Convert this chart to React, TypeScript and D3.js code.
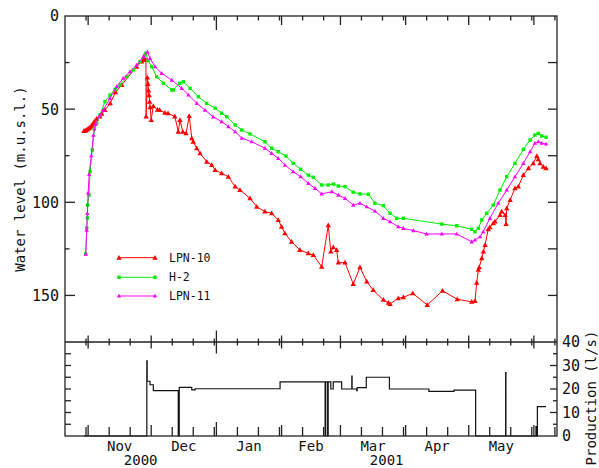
import React from "react";
import * as d3 from "d3";

// ---------- DATA ----------
const xStart = "2000-10-21";
const xEnd = "2001-06-12";

const lpn10: [string, number][] = [
  ["2000-10-30", 61.8], ["2000-10-30T12", 61.6], ["2000-10-31", 61.3], ["2000-10-31T12", 61.0],
  ["2000-11-01", 60.6], ["2000-11-01T12", 60.2], ["2000-11-02", 59.7], ["2000-11-02T12", 59.1],
  ["2000-11-03", 58.4], ["2000-11-03T12", 57.6], ["2000-11-04", 56.6], ["2000-11-05", 55.2],
  ["2000-11-06T12", 54.0], ["2000-11-07T12", 52.5], ["2000-11-09", 50.5], ["2000-11-11T12", 46.9],
  ["2000-11-14", 41.0], ["2000-11-17", 37.0], ["2000-11-24", 27.2], ["2000-11-26T12", 24.5],
  ["2000-11-27", 23.4], ["2000-11-27T12", 23.2], ["2000-11-28", 23.2], ["2000-11-28T12", 23.6],
  ["2000-11-28T14", 54.0], ["2000-11-29T04", 33.0], ["2000-11-29T12", 36.5], ["2000-11-29T18", 40.0],
  ["2000-11-30", 42.5], ["2000-11-30T06", 46.0], ["2000-11-30T12", 49.0], ["2000-12-01", 55.8],
  ["2000-12-02", 48.3], ["2000-12-04", 50.4], ["2000-12-05", 50.5], ["2000-12-07T12", 52.0],
  ["2000-12-09", 52.2], ["2000-12-12T06", 54.0], ["2000-12-13T21", 62.1], ["2000-12-14T16", 55.8],
  ["2000-12-16", 62.1], ["2000-12-17T14", 63.0], ["2000-12-19T02", 53.7], ["2000-12-20T07", 65.6],
  ["2000-12-21", 67.5], ["2000-12-22T16", 71.0], ["2000-12-24T05", 73.7], ["2000-12-27T10", 78.2],
  ["2000-12-29T19", 80.0], ["2000-12-31T10", 82.7], ["2001-01-03T12", 84.4], ["2001-01-06T17", 86.3],
  ["2001-01-09T22", 91.6], ["2001-01-12T05", 93.4], ["2001-01-17", 97.9], ["2001-01-20T05", 102.4],
  ["2001-01-24T02", 105.0], ["2001-01-27T07", 105.9], ["2001-01-30T10", 109.5], ["2001-02-01", 113.1],
  ["2001-02-02T14", 116.6], ["2001-02-05T19", 121.2], ["2001-02-09T17", 125.6], ["2001-02-13T17", 127.4],
  ["2001-02-16T02", 128.3], ["2001-02-20T02", 134.6], ["2001-02-23T05", 112.4], ["2001-02-24T10", 126.5],
  ["2001-02-25T14", 124.2], ["2001-02-27T05", 125.6], ["2001-02-28", 132.4], ["2001-03-03T05", 132.4],
  ["2001-03-07T02", 143.9], ["2001-03-10T07", 134.9], ["2001-03-13T12", 142.6], ["2001-03-16T14", 147.1],
  ["2001-03-21T10", 152.4], ["2001-03-23T19", 153.9], ["2001-03-24T14", 154.6], ["2001-03-28T12", 151.5],
  ["2001-03-30T22", 151.0], ["2001-04-04T10", 148.9], ["2001-04-11T07", 155.1], ["2001-04-18T14", 147.5],
  ["2001-04-25T14", 152.1], ["2001-05-02T10", 153.4], ["2001-05-04", 153.0], ["2001-05-04T19", 143.2],
  ["2001-05-05T14", 136.3], ["2001-05-06", 134.9], ["2001-05-07T05", 130.1], ["2001-05-08", 126.5],
  ["2001-05-08T19", 122.9], ["2001-05-10T07", 114.5], ["2001-05-11T02", 113.4], ["2001-05-12T17", 111.3],
  ["2001-05-13T12", 110.4], ["2001-05-15T22", 106.8], ["2001-05-16T17", 105.0], ["2001-05-18T07", 106.8],
  ["2001-05-18T19", 111.7], ["2001-05-19T02", 103.2], ["2001-05-20T17", 98.8], ["2001-05-23", 92.5],
  ["2001-05-24T14", 91.6], ["2001-05-27", 85.4], ["2001-05-29T10", 81.8], ["2001-05-31T17", 79.1],
  ["2001-06-02T10", 75.2], ["2001-06-03T02", 76.9], ["2001-06-03T22", 79.1], ["2001-06-05T12", 80.9],
  ["2001-06-06T19", 81.8],
];

const h2: [string, number][] = [
  ["2000-10-30T21", 127.8], ["2000-10-31T08", 113.8], ["2000-10-31T15", 108.4], ["2000-10-31T19", 101.5],
  ["2000-11-01T10", 96.1], ["2000-11-01T22", 83.6], ["2000-11-03", 71.9], ["2000-11-03T23", 60.8],
  ["2000-11-05T02", 57.6], ["2000-11-06T16", 53.1], ["2000-11-09", 46.0], ["2000-11-11T10", 42.4],
  ["2000-11-13T19", 39.4], ["2000-11-16T05", 37.0], ["2000-11-19T10", 32.6], ["2000-11-22T12", 29.0],
  ["2000-11-25T17", 24.5], ["2000-11-28T02", 20.9], ["2000-11-28T12", 19.9], ["2000-11-29T12", 24.0],
  ["2000-12-01T05", 27.2], ["2000-12-03T14", 32.6], ["2000-12-06T19", 36.1], ["2000-12-10T19", 39.7],
  ["2000-12-11T12", 39.7], ["2000-12-14T14", 36.1], ["2000-12-16T07", 35.3], ["2000-12-19T12", 38.8],
  ["2000-12-23T10", 43.3], ["2000-12-27T10", 46.9], ["2000-12-31T10", 49.5], ["2001-01-03T12", 52.2],
  ["2001-01-05T22", 54.1], ["2001-01-09T22", 58.5], ["2001-01-13T02", 61.2], ["2001-01-17", 63.3],
  ["2001-01-24T02", 67.5], ["2001-01-27T07", 71.0], ["2001-01-30T10", 72.8], ["2001-02-03T02", 75.2],
  ["2001-02-06T14", 79.1], ["2001-02-10T02", 82.3], ["2001-02-13T17", 85.4], ["2001-02-16T02", 86.6],
  ["2001-02-20T02", 90.7], ["2001-02-23T05", 90.7], ["2001-02-25T14", 90.2], ["2001-02-28", 91.3],
  ["2001-03-03T05", 91.6], ["2001-03-07T02", 94.6], ["2001-03-10T07", 95.5], ["2001-03-14T07", 95.7],
  ["2001-03-17T10", 100.5], ["2001-03-21T10", 101.8], ["2001-03-24T14", 105.9], ["2001-03-27T19", 108.6],
  ["2001-03-30T22", 108.6], ["2001-04-18T05", 111.7], ["2001-04-25T07", 112.6], ["2001-05-02T10", 114.5],
  ["2001-05-04", 115.8], ["2001-05-05T14", 114.0], ["2001-05-07T05", 109.5], ["2001-05-09T14", 105.9],
  ["2001-05-12T17", 101.5], ["2001-05-15T22", 93.4], ["2001-05-19T02", 86.3], ["2001-05-23", 79.1],
  ["2001-05-27", 71.6], ["2001-05-30T05", 66.6], ["2001-06-01T12", 63.9], ["2001-06-03T02", 63.0],
  ["2001-06-04T17", 64.4], ["2001-06-06T19", 65.1],
];

const lpn11: [string, number][] = [
  ["2000-10-30T21", 127.8], ["2000-10-31T08", 114.9], ["2000-10-31T15", 106.0], ["2000-11-01", 95.0],
  ["2000-11-01T12", 85.0], ["2000-11-02T12", 75.0], ["2000-11-03T12", 64.0], ["2000-11-04T12", 58.0],
  ["2000-11-06T16", 53.1], ["2000-11-08T05", 50.5], ["2000-11-11T10", 44.2], ["2000-11-14T14", 37.9],
  ["2000-11-17T17", 33.4], ["2000-11-20T22", 29.9], ["2000-11-24T02", 26.3], ["2000-11-27T07", 21.8],
  ["2000-11-29T05", 19.2], ["2000-11-30T10", 22.7], ["2000-12-02T19", 27.2], ["2000-12-06", 30.8],
  ["2000-12-10T19", 34.4], ["2000-12-15T12", 38.8], ["2000-12-18T17", 42.4], ["2000-12-22T17", 46.9],
  ["2000-12-26T14", 50.5], ["2000-12-30T12", 54.1], ["2001-01-03T12", 56.7], ["2001-01-06T17", 59.4],
  ["2001-01-09T22", 62.1], ["2001-01-13T02", 65.6], ["2001-01-17T19", 67.5], ["2001-01-24T02", 71.0],
  ["2001-01-27T07", 73.7], ["2001-01-30T10", 76.4], ["2001-02-02T14", 80.0], ["2001-02-06T14", 83.6],
  ["2001-02-10T02", 86.3], ["2001-02-13T17", 89.8], ["2001-02-16T22", 92.5], ["2001-02-20T02", 95.5],
  ["2001-02-24T22", 94.3], ["2001-02-28", 96.1], ["2001-03-03T05", 97.9], ["2001-03-07T02", 101.5],
  ["2001-03-10T07", 100.5], ["2001-03-13T12", 102.4], ["2001-03-17T10", 104.7], ["2001-03-21T10", 108.6],
  ["2001-03-24T14", 110.4], ["2001-03-28T12", 113.1], ["2001-03-30T22", 114.0], ["2001-04-04T17", 115.2],
  ["2001-04-11", 117.0], ["2001-04-18T05", 117.0], ["2001-04-25T07", 117.0], ["2001-05-02T10", 121.2],
  ["2001-05-04", 120.2], ["2001-05-06T10", 118.5], ["2001-05-07T22", 115.8], ["2001-05-11T02", 108.6],
  ["2001-05-15T02", 100.5], ["2001-05-19T02", 93.4], ["2001-05-23", 86.3], ["2001-05-27", 79.1],
  ["2001-05-30T05", 72.8], ["2001-06-01T12", 68.3], ["2001-06-03T02", 67.5], ["2001-06-04T17", 68.3],
  ["2001-06-06T19", 68.7],
];

const production: [string, number][] = [
  ["2000-10-30", 0], ["2000-11-28T22", 32], ["2000-11-29T02", 23.3], ["2000-11-30T10", 21.8],
  ["2000-12-02", 19.3], ["2000-12-13T21", 0], ["2000-12-14T08", 20.7], ["2000-12-20T07", 19.6],
  ["2000-12-21T22", 20.1], ["2001-01-31T07", 23.0], ["2001-02-21T17", 0], ["2001-02-22", 23.0],
  ["2001-02-22T22", 0], ["2001-02-23T04", 23.0], ["2001-02-24T10", 20.0], ["2001-02-25T14", 23.0],
  ["2001-03-01T14", 20.0], ["2001-03-06T10", 25.5], ["2001-03-06T13", 20.0], ["2001-03-08T18", 19.3],
  ["2001-03-08T23", 20.6], ["2001-03-13T07", 25.0], ["2001-03-24T07", 20.0], ["2001-04-12T02", 19.0],
  ["2001-04-24", 19.5], ["2001-05-04T07", 0], ["2001-05-18T14", 27.0], ["2001-05-18T17", 0],
  ["2001-06-02", 4.0], ["2001-06-02T05", 0], ["2001-06-02T16", 12.5], ["2001-06-06T19", 12.5],
];

const levelTicks = [0, 50, 100, 150];
const prodTicks = [0, 10, 20, 30, 40];
const monthNames = ["Nov", "Dec", "Jan", "Feb", "Mar", "Apr", "May"];
const yearNames = ["2000", "2001"];
const seriesNames = ["LPN-10", "H-2", "LPN-11"];
const seriesColors = ["#ff0000", "#00ee00", "#ff00ff"];

// ---------- HELPERS ----------
const parse = (s: string) => new Date(s.length > 10 ? s + ":00:00Z" : s + "T00:00:00Z");

const triPath = (r: number) => `M0,${-r} L${r * 0.95},${r * 0.7} L${-r * 0.95},${r * 0.7} Z`;
const sqPath = (r: number) => `M${-r},${-r} H${r} V${r} H${-r} Z`;

export default function App() {
  const W = 599, H = 468;
  const L = 65, R = 557, T = 16, S = 342, B = 436;
  const x = d3.scaleUtc().domain([parse(xStart), parse(xEnd)]).range([L, R]);
  const yTop = d3.scaleLinear().domain([0, 175]).range([T, S]);
  const yBot = d3.scaleLinear().domain([0, 40]).range([B, S]);

  const lineTop = d3.line<[string, number]>().x((d) => x(parse(d[0]))).y((d) => yTop(d[1]));
  const lineProd = d3
    .line<[string, number]>()
    .x((d) => x(parse(d[0])))
    .y((d) => yBot(d[1]))
    .curve(d3.curveStepAfter);

  const d0 = parse(xStart), d1 = parse(xEnd);
  const months = d3.utcMonth.range(d3.utcDay.offset(d0, 1), d3.utcDay.offset(d1, 1));
  const minorDays = d3.utcDay.range(d3.utcDay.offset(d0, 1), d1).filter((d) => [11, 21, 31].includes(d.getUTCDate()));
  const isYear = (d: Date) => d.getUTCMonth() === 0 && d.getUTCDate() === 1;

  const series = [
    { data: lpn10, marker: triPath(2.8), color: seriesColors[0] },
    { data: h2, marker: sqPath(1.7), color: seriesColors[1] },
    { data: lpn11, marker: triPath(2.3), color: seriesColors[2] },
  ];

  const axisColor = "#222";
  const font = "'DejaVu Sans Mono', monospace";

  const monthLabelDates = months.slice(0, monthNames.length);
  const jan1 = parse("2001-01-01");

  return (
    <svg width={W} height={H} style={{ position: "absolute", left: 0, top: 0, background: "#fff" }} fontFamily={font}>
      <rect x={0} y={0} width={W} height={H} fill="#fff" />
      {/* data top */}
      <g>
        {series.map((s, i) => (
          <g key={i}>
            <path d={lineTop(s.data) || ""} fill="none" stroke={s.color} strokeWidth={1} />
            {s.data.map((d, j) => (
              <path key={j} d={s.marker} transform={`translate(${x(parse(d[0]))},${yTop(d[1])})`} fill={s.color} />
            ))}
          </g>
        ))}
      </g>
      {/* production */}
      <path d={lineProd(production) || ""} fill="none" stroke="#111" strokeWidth={1.2} />

      {/* frame */}
      <g stroke={axisColor} strokeWidth={1.3} fill="none">
        <rect x={L} y={T} width={R - L} height={B - T} />
        <line x1={L} x2={R} y1={S} y2={S} />
        {months.map((m, i) => {
          const xx = x(m);
          const yr = isYear(m);
          return (
            <g key={"M" + i}>
              <line x1={xx} x2={xx} y1={T} y2={T + (yr ? 14 : 9)} />
              <line x1={xx} x2={xx} y1={S - (yr ? 11.5 : 6.5)} y2={S + (yr ? 11.5 : 6.5)} />
              <line x1={xx} x2={xx} y1={B} y2={B - (yr ? 14 : 11)} />
            </g>
          );
        })}
        {minorDays.map((m, i) => {
          const xx = x(m);
          return (
            <g key={"m" + i}>
              <line x1={xx} x2={xx} y1={T} y2={T + 4.5} />
              <line x1={xx} x2={xx} y1={S - 3.5} y2={S + 3.5} />
              <line x1={xx} x2={xx} y1={B} y2={B - 9} />
            </g>
          );
        })}
        {d3.range(25, 175, 25).map((v) => (
          <g key={"yl" + v}>
            <line x1={L} x2={L + (v % 50 === 0 ? 10 : 4.5)} y1={yTop(v)} y2={yTop(v)} />
            <line x1={R} x2={R - 9} y1={yTop(v)} y2={yTop(v)} />
          </g>
        ))}
        {d3.range(5, 40, 5).map((v) => (
          <g key={"yb" + v}>
            <line x1={L} x2={L + 6} y1={yBot(v)} y2={yBot(v)} />
            <line x1={R} x2={R - (v % 10 === 0 ? 7 : 4)} y1={yBot(v)} y2={yBot(v)} />
          </g>
        ))}
      </g>

      {/* tick labels */}
      <g fontSize={15} fill="#111">
        {levelTicks.map((v) => (
          <text key={"lt" + v} x={L - 6} y={yTop(v)} dy="0.36em" textAnchor="end">
            {v}
          </text>
        ))}
        {prodTicks.map((v) => (
          <text key={"pt" + v} x={R + 5} y={yBot(v)} dy="0.36em" textAnchor="start">
            {v}
          </text>
        ))}
      </g>
      <g fontSize={14} fill="#111">
        {monthLabelDates.map((m, i) => {
          const next = d3.utcMonth.offset(m, 1);
          return (
            <text key={"ml" + i} x={(x(m) + x(next)) / 2} y={451} textAnchor="middle">
              {monthNames[i]}
            </text>
          );
        })}
        <text x={(L + x(jan1)) / 2} y={465} textAnchor="middle">
          {yearNames[0]}
        </text>
        <text x={(x(jan1) + R) / 2} y={465} textAnchor="middle">
          {yearNames[1]}
        </text>
      </g>

      {/* axis titles */}
      <text transform={`translate(25,${(T + S) / 2}) rotate(-90)`} textAnchor="middle" fontSize={14} fill="#111">
        Water level (m.u.s.l.)
      </text>
      <text transform={`translate(596,398) rotate(-90)`} textAnchor="middle" fontSize={14} fill="#111">
        Production (l/s)
      </text>

      {/* legend */}
      <g>
        {series.map((s, i) => {
          const ly = [257.7, 277.3, 296][i];
          return (
            <g key={"lg" + i}>
              <line x1={119} x2={155} y1={ly} y2={ly} stroke={s.color} strokeWidth={1} />
              <path d={s.marker} transform={`translate(119,${ly})`} fill={s.color} />
              <path d={s.marker} transform={`translate(155,${ly})`} fill={s.color} />
              <text x={169} y={ly} dy="0.36em" fontSize={11.5} fill="#111">
                {seriesNames[i]}
              </text>
            </g>
          );
        })}
      </g>
    </svg>
  );
}
